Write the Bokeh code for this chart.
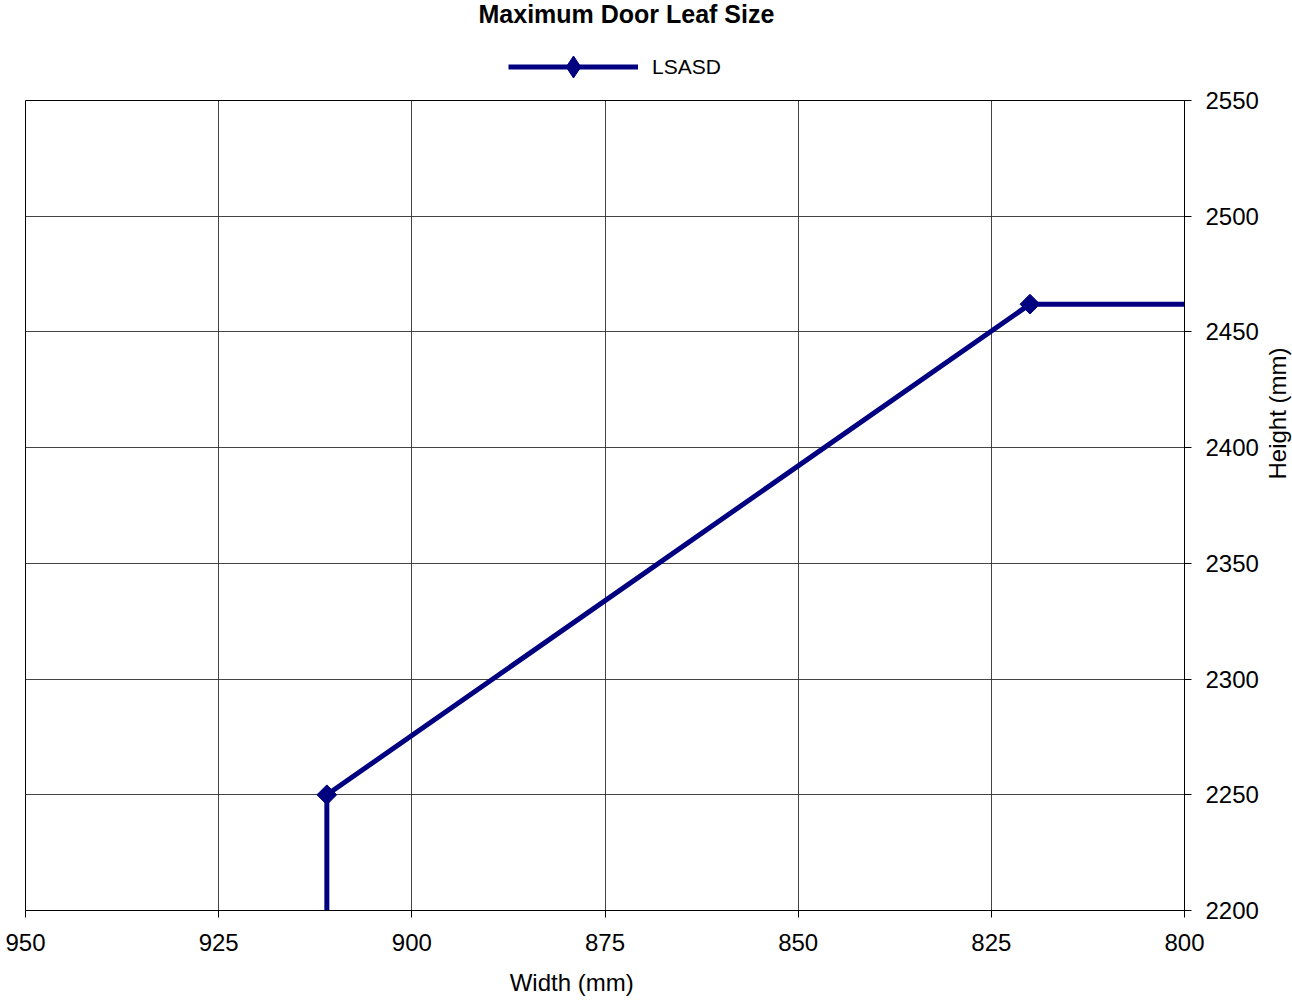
import math
from bokeh.plotting import figure
from bokeh.models import LinearAxis, Range1d, FixedTicker, Legend, LegendItem, Label
from bokeh.layouts import column, row
from bokeh.embed import file_html
from bokeh.resources import INLINE

# Data
width_mm = [911, 911, 820, 800]
height_mm = [2200, 2250, 2462, 2462]
marker_width = [911, 820]
marker_height = [2250, 2462]
x_ticks = [800, 825, 850, 875, 900, 925, 950]
y_ticks = [2200, 2250, 2300, 2350, 2400, 2450, 2500, 2550]
series_name = "LSASD"
x_title = "Width (mm)"
y_title = "Height (mm)"
chart_title = "Maximum Door Leaf Size"

FONT = "Liberation Sans"
FS = "24px"
NB = "\u00a0"
NAVY = "#000080"

TOP_H = 82
MAIN_H = 918
MAIN_W = 1262
SIDE_W = 30


def bare(fig):
    fig.axis.visible = False
    fig.grid.visible = False
    fig.outline_line_color = None
    fig.background_fill_color = "white"
    fig.border_fill_color = "white"
    fig.min_border = 0


# ---------- header: title + legend ----------
top = figure(width=MAIN_W + SIDE_W, height=TOP_H, output_backend="svg", toolbar_location=None,
             x_range=Range1d(0, 1), y_range=Range1d(0, 1),
             min_border_left=0, min_border_right=0, min_border_top=0, min_border_bottom=0)
bare(top)
top.add_layout(Label(x=478, y=TOP_H - 13, x_units="screen", y_units="screen", text=chart_title,
                     text_font=FONT, text_font_size="25px", text_font_style="bold",
                     text_color="black", text_align="left", text_baseline="middle"))
# legend sample renderers (their data lies outside this header's ranges)
leg_line = top.line(width_mm, height_mm, line_color=NAVY, line_width=5)
leg_mark = top.scatter(marker_width, marker_height, marker="diamond", size=22,
                       fill_color=NAVY, line_color=NAVY)
legend = Legend(items=[LegendItem(label=series_name, renderers=[leg_line, leg_mark])],
                location=(508, TOP_H - 67 - 27), orientation="horizontal",
                glyph_width=130, glyph_height=55, label_text_font=FONT,
                label_text_font_size="21px", label_text_color="black",
                border_line_color=None, background_fill_alpha=0, padding=0, margin=0,
                label_standoff=14)
top.add_layout(legend, "center")

# ---------- main chart ----------
p = figure(width=MAIN_W, height=MAIN_H, output_backend="svg", toolbar_location=None,
           x_range=Range1d(950, 800), y_range=Range1d(2200, 2550),
           x_axis_location="below", y_axis_location=None,
           min_border_left=25, min_border_right=MAIN_W - 1184, min_border_top=100 - TOP_H,
           min_border_bottom=90)
p.outline_line_color = "black"
p.outline_line_width = 1
p.background_fill_color = "white"
p.border_fill_color = "white"

xa = p.xaxis[0]
xa.ticker = FixedTicker(ticks=x_ticks)
xa.axis_label = x_title + NB * 10
xa.axis_label_text_font = FONT
xa.axis_label_text_font_size = FS
xa.axis_label_text_font_style = "normal"
xa.axis_label_text_color = "black"
xa.axis_label_standoff = 15
xa.major_label_text_font = FONT
xa.major_label_text_font_size = FS
xa.major_label_text_color = "black"
xa.major_tick_out = 7
xa.major_tick_in = 0
xa.minor_tick_out = 0
xa.minor_tick_in = 0
xa.axis_line_color = "black"
xa.major_tick_line_color = "black"
xa.major_label_standoff = 16

ya = LinearAxis(ticker=FixedTicker(ticks=y_ticks))
ya.major_label_text_font = FONT
ya.major_label_text_font_size = FS
ya.major_label_text_color = "black"
ya.major_tick_out = 7
ya.major_tick_in = 0
ya.minor_tick_out = 0
ya.minor_tick_in = 0
ya.axis_line_color = "black"
ya.major_tick_line_color = "black"
ya.major_label_standoff = 14
p.add_layout(ya, "right")

p.xgrid.ticker = FixedTicker(ticks=x_ticks)
p.ygrid.ticker = FixedTicker(ticks=y_ticks)
for g in (p.xgrid[0], p.ygrid[0]):
    g.grid_line_color = "#303030"
    g.grid_line_width = 1
    g.grid_line_alpha = 0.9

p.line(width_mm, height_mm, line_color=NAVY, line_width=5)
p.scatter(marker_width, marker_height, marker="square", angle=math.pi / 4,
          size=14, fill_color=NAVY, line_color=NAVY)

# ---------- right-hand axis title ----------
side = figure(width=SIDE_W, height=MAIN_H, output_backend="svg", toolbar_location=None,
              x_range=Range1d(0, 1), y_range=Range1d(0, 1),
              min_border_left=0, min_border_right=0, min_border_top=0, min_border_bottom=0)
bare(side)
side.add_layout(Label(x=1277 - MAIN_W, y=MAIN_H - (413 - TOP_H) - 90, x_units="screen",
                      y_units="screen", text=y_title, angle=math.pi / 2,
                      text_font=FONT, text_font_size=FS, text_color="black",
                      text_align="center", text_baseline="middle"))

layout = column(top, row(p, side, spacing=0), spacing=0)

open("out.html", "w").write(file_html(layout, INLINE))
